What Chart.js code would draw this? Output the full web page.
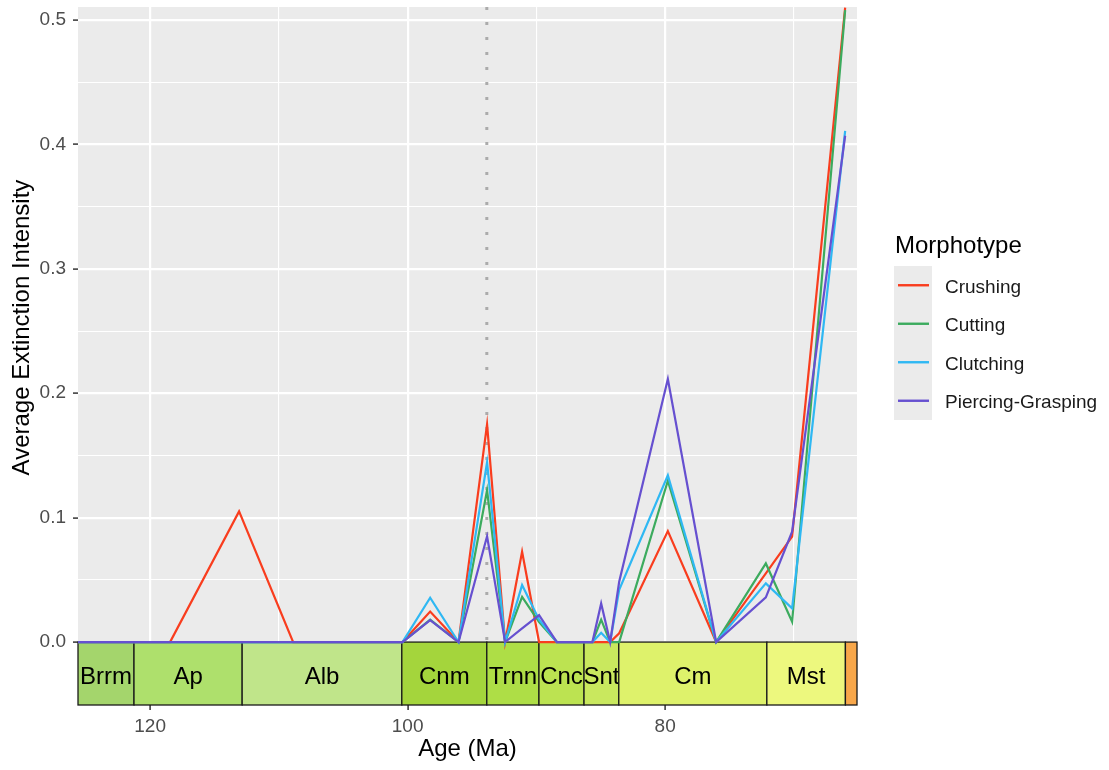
<!DOCTYPE html>
<html>
<head>
<meta charset="utf-8">
<script src="https://cdn.jsdelivr.net/npm/chart.js@4.4.1/dist/chart.umd.min.js"></script>
<style>
  html, body { margin: 0; padding: 0; background: #ffffff; }
  canvas { display: block; }
</style>
</head>
<body>
<canvas id="chart" width="1109" height="770"></canvas>
<script>
// ---- data -------------------------------------------------------------
// Sample ages (Ma) shared by every morphotype series
const ages = [125.59, 118.45, 113.09, 108.89, 100.40, 98.25, 96.05, 93.83, 92.43, 91.11,
              89.79, 88.41, 85.65, 84.97, 84.27, 83.57, 79.79, 76.04, 72.18, 70.14, 66.02];

const crushing   = [0, 0, 0.105, 0, 0, 0.0245, 0, 0.175, 0, 0.0726,
                    0, 0, 0, 0, 0, 0.007, 0.0892, 0, 0.0552, 0.0847, 0.510];
const cutting    = [0, 0, 0, 0, 0, 0.018, 0, 0.122, 0, 0.0364,
                    0.016, 0, 0, 0.018, 0, 0, 0.1297, 0, 0.0632, 0.0163, 0.508];
const clutching  = [0, 0, 0, 0, 0, 0.0356, 0, 0.1445, 0, 0.0458,
                    0.018, 0, 0, 0.0075, 0, 0.042, 0.134, 0, 0.0472, 0.0271, 0.411];
const piercing   = [0, 0, 0, 0, 0, 0.0177, 0, 0.085, 0, 0.011,
                    0.0217, 0, 0, 0.031, 0, 0.0485, 0.2114, 0, 0.0359, 0.0887, 0.407];

const seriesNames  = ['Crushing', 'Cutting', 'Clutching', 'Piercing-Grasping'];
const seriesValues = [crushing, cutting, clutching, piercing];
const seriesColors = ['#F93D1E', '#3CAB5E', '#2FB8F3', '#6650D0'];

// Geological stages drawn as the time scale under the panel
const stageLabels = ['Brrm', 'Ap', 'Alb', 'Cnm', 'Trnn', 'Cnc', 'Snt', 'Cm', 'Mst', '']; // last one (Danian) too narrow for a label
const stageStart  = [125.77, 121.25, 112.85, 100.45, 93.85, 89.8, 86.3, 83.6, 72.1, 66.0];
const stageEnd    = [121.25, 112.85, 100.45, 93.85, 89.8, 86.3, 83.6, 72.1, 66.0, 61.6];
const stageColors = ['#A4D56C', '#AEE06C', '#C0E58A', '#A4D53C', '#AEDE46', '#BCE351',
                     '#C9E85E', '#DEF26B', '#EDF87E', '#F8A74A'];

// Cenomanian–Turonian boundary marker
const boundaryAge = 93.85;

// Axis ticks
const xMajorTicks = [120, 100, 80];
const xMinorTicks = [110, 90, 70];
const yMajorTicks = [0, 0.1, 0.2, 0.3, 0.4, 0.5];
const yMinorTicks = [0.05, 0.15, 0.25, 0.35, 0.45];
const yTitle = 'Average Extinction Intensity';

// ---- drawing ------------------------------------------------------------
const FONT = '"Liberation Sans", Arial, Helvetica, sans-serif';

const geoPlugin = {
  id: 'geoPanel',
  beforeDraw(chart) {
    const { ctx, chartArea: a } = chart;
    ctx.save();
    ctx.fillStyle = '#EBEBEB';
    ctx.fillRect(a.left, a.top, a.right - a.left, a.bottom - a.top);
    ctx.restore();
  },
  beforeDatasetsDraw(chart) {
    const { ctx, chartArea: a, scales: { x, y } } = chart;
    const y0 = y.getPixelForValue(0);
    const y1 = a.bottom;
    ctx.save();
    // time-scale boxes
    ctx.font = '24px ' + FONT;
    ctx.textAlign = 'center';
    ctx.textBaseline = 'alphabetic';
    stageLabels.forEach((label, i) => {
      const x0 = Math.max(a.left, x.getPixelForValue(stageStart[i]));
      const x1 = Math.min(a.right, x.getPixelForValue(stageEnd[i]));
      ctx.fillStyle = stageColors[i];
      ctx.fillRect(x0, y0, x1 - x0, y1 - y0);
      ctx.strokeStyle = '#1a1a1a';
      ctx.lineWidth = 1.3;
      ctx.strokeRect(x0, y0, x1 - x0, y1 - y0);
      if (label) {
        ctx.fillStyle = '#000000';
        ctx.fillText(label, (x0 + x1) / 2, (y0 + y1) / 2 + 10.5);
      }
    });
    // dotted boundary line
    const bx = x.getPixelForValue(boundaryAge);
    ctx.strokeStyle = '#ABABAB';
    ctx.lineWidth = 3;
    ctx.setLineDash([3, 12]);
    ctx.beginPath();
    ctx.moveTo(bx, a.top);
    ctx.lineTo(bx, y0);
    ctx.stroke();
    ctx.restore();
  },
  afterDraw(chart) {
    const { ctx, chartArea: a, scales: { y } } = chart;
    const ds = chart.data.datasets;
    ctx.save();
    // y axis title, centred on the data panel above the time scale
    const cy = (a.top + y.getPixelForValue(0)) / 2 + 3;
    ctx.translate(22, cy);
    ctx.rotate(-Math.PI / 2);
    ctx.fillStyle = '#000000';
    ctx.font = '24px ' + FONT;
    ctx.textAlign = 'center';
    ctx.textBaseline = 'middle';
    ctx.fillText(yTitle, 0, 0);
    ctx.restore();

    // legend
    const keyLeft = 894, keyW = 38, keyTop = 266, keyH = 38.5;
    ctx.save();
    ctx.fillStyle = '#000000';
    ctx.font = '24px ' + FONT;
    ctx.textAlign = 'left';
    ctx.textBaseline = 'alphabetic';
    ctx.fillText('Morphotype', 895, 252.5);
    ctx.fillStyle = '#EBEBEB';
    ctx.fillRect(keyLeft, keyTop, keyW, keyH * ds.length);
    ctx.font = '19px ' + FONT;
    ds.forEach((d, i) => {
      const ky = keyTop + keyH * i + keyH / 2;
      ctx.strokeStyle = d.borderColor;
      ctx.lineWidth = 2.4;
      ctx.beginPath();
      ctx.moveTo(keyLeft + 4, ky);
      ctx.lineTo(keyLeft + keyW - 3, ky);
      ctx.stroke();
      ctx.fillStyle = '#1a1a1a';
      ctx.fillText(d.label, 945, ky + 7.5);
    });
    ctx.restore();
  }
};

const isMajorX = v => xMajorTicks.includes(v);
const isMajorY = v => yMajorTicks.includes(v);

new Chart(document.getElementById('chart'), {
  type: 'line',
  data: {
    datasets: seriesNames.map((name, i) => ({
      label: name,
      data: ages.map((a, j) => ({ x: a, y: seriesValues[i][j] })),
      borderColor: seriesColors[i],
      backgroundColor: seriesColors[i],
      borderWidth: 2.2,
      pointRadius: 0,
      tension: 0,
      fill: false,
      order: seriesNames.length - i
    }))
  },
  options: {
    responsive: false,
    animation: false,
    layout: { padding: { left: 0, right: 252, top: 7, bottom: 0 } },
    plugins: { legend: { display: false }, tooltip: { enabled: false } },
    scales: {
      x: {
        type: 'linear',
        reverse: true,
        min: 65.1,
        max: 125.6,
        afterBuildTicks: s => { s.ticks = [...xMinorTicks, ...xMajorTicks].sort((a, b) => a - b).map(v => ({ value: v })); },
        afterFit: s => { s.height = 65; s.paddingLeft = 0; s.paddingRight = 0; },
        ticks: {
          autoSkip: false,
          maxRotation: 0,
          padding: 5,
          color: '#4D4D4D',
          font: { family: FONT, size: 19 },
          callback: v => (isMajorX(v) ? String(v) : '')
        },
        grid: {
          color: '#FFFFFF',
          lineWidth: c => (c.tick && isMajorX(c.tick.value) ? 2.2 : 1.1),
          tickLength: 5,
          tickWidth: 1.5,
          tickColor: c => (c.tick && isMajorX(c.tick.value) ? '#333333' : 'rgba(0,0,0,0)')
        },
        border: { display: false },
        title: {
          display: true,
          text: 'Age (Ma)',
          color: '#000000',
          font: { family: FONT, size: 24 },
          padding: { top: 0, bottom: 6 }
        }
      },
      y: {
        min: -0.0506,
        max: 0.5105,
        afterBuildTicks: s => { s.ticks = [...yMajorTicks, ...yMinorTicks].sort((a, b) => a - b).map(v => ({ value: v })); },
        afterFit: s => { s.width = 78; s.paddingTop = 0; s.paddingBottom = 0; },
        ticks: {
          padding: 7,
          color: '#4D4D4D',
          font: { family: FONT, size: 19 },
          callback: v => (isMajorY(v) ? v.toFixed(1) : '')
        },
        grid: {
          color: '#FFFFFF',
          lineWidth: c => (c.tick && isMajorY(c.tick.value) ? 2.2 : 1.1),
          tickLength: 5,
          tickWidth: 1.5,
          tickColor: c => (c.tick && isMajorY(c.tick.value) ? '#333333' : 'rgba(0,0,0,0)')
        },
        border: { display: false },
        title: { display: false }
      }
    }
  },
  plugins: [geoPlugin]
});
</script>
</body>
</html>
